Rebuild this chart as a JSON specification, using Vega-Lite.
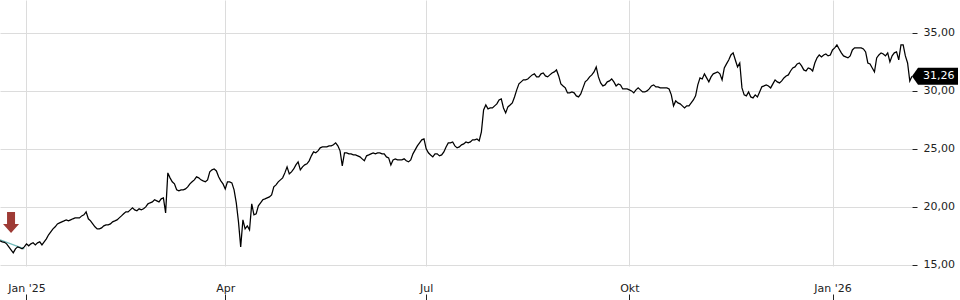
{
"$schema": "https://vega.github.io/schema/vega-lite/v6.json",
"width": 912, "height": 266,
"autosize": {"type": "none"},
"padding": {"left": 0, "top": 0, "right": 48, "bottom": 34},
"background": "white",
"config": {"view": {"stroke": null}, "font": "DejaVu Sans"},
"datasets": {
"prices": [
{"t":"2024-12-20","p":17.07},{"t":"2024-12-21","p":16.98},{"t":"2024-12-22","p":16.94},{"t":"2024-12-23","p":16.81},{"t":"2024-12-24","p":16.55},{"t":"2024-12-25","p":16.29},{"t":"2024-12-26","p":16.03},{"t":"2024-12-27","p":16.38},{"t":"2024-12-28","p":16.55},{"t":"2024-12-29","p":16.47},{"t":"2024-12-30","p":16.38},{"t":"2024-12-31","p":16.55},
{"t":"2025-01-01","p":16.81},{"t":"2025-01-02","p":16.64},{"t":"2025-01-03","p":16.81},{"t":"2025-01-04","p":16.90},{"t":"2025-01-05","p":16.72},{"t":"2025-01-06","p":16.90},{"t":"2025-01-07","p":16.98},{"t":"2025-01-08","p":16.72},{"t":"2025-01-09","p":16.98},{"t":"2025-01-10","p":17.24},{"t":"2025-01-11","p":17.59},{"t":"2025-01-12","p":17.85},{"t":"2025-01-13","p":18.10},{"t":"2025-01-14","p":18.28},{"t":"2025-01-15","p":18.53},{"t":"2025-01-16","p":18.62},{"t":"2025-01-17","p":18.71},{"t":"2025-01-18","p":18.79},{"t":"2025-01-19","p":18.88},{"t":"2025-01-20","p":18.79},{"t":"2025-01-21","p":18.88},{"t":"2025-01-22","p":18.97},{"t":"2025-01-23","p":19.05},{"t":"2025-01-24","p":19.05},{"t":"2025-01-25","p":19.05},{"t":"2025-01-26","p":19.22},{"t":"2025-01-27","p":19.31},{"t":"2025-01-28","p":19.57},{"t":"2025-01-29","p":18.97},{"t":"2025-01-30","p":18.79},{"t":"2025-01-31","p":18.53},
{"t":"2025-02-01","p":18.28},{"t":"2025-02-02","p":18.10},{"t":"2025-02-03","p":18.10},{"t":"2025-02-04","p":18.19},{"t":"2025-02-05","p":18.36},{"t":"2025-02-06","p":18.45},{"t":"2025-02-07","p":18.45},{"t":"2025-02-08","p":18.53},{"t":"2025-02-09","p":18.71},{"t":"2025-02-10","p":18.79},{"t":"2025-02-11","p":18.88},{"t":"2025-02-12","p":19.05},{"t":"2025-02-13","p":19.22},{"t":"2025-02-14","p":19.40},{"t":"2025-02-15","p":19.57},{"t":"2025-02-16","p":19.57},{"t":"2025-02-17","p":19.74},{"t":"2025-02-18","p":19.91},{"t":"2025-02-19","p":19.74},{"t":"2025-02-20","p":19.66},{"t":"2025-02-21","p":19.83},{"t":"2025-02-22","p":19.74},{"t":"2025-02-23","p":19.83},{"t":"2025-02-24","p":20.00},{"t":"2025-02-25","p":20.26},{"t":"2025-02-26","p":20.35},{"t":"2025-02-27","p":20.43},{"t":"2025-02-28","p":20.61},
{"t":"2025-03-01","p":20.52},{"t":"2025-03-02","p":20.43},{"t":"2025-03-03","p":20.69},{"t":"2025-03-04","p":20.78},{"t":"2025-03-05","p":19.48},{"t":"2025-03-06","p":22.93},{"t":"2025-03-07","p":22.50},{"t":"2025-03-08","p":22.16},{"t":"2025-03-09","p":21.98},{"t":"2025-03-10","p":21.47},{"t":"2025-03-11","p":21.38},{"t":"2025-03-12","p":21.47},{"t":"2025-03-13","p":21.47},{"t":"2025-03-14","p":21.55},{"t":"2025-03-15","p":21.72},{"t":"2025-03-16","p":21.98},{"t":"2025-03-17","p":22.16},{"t":"2025-03-18","p":22.33},{"t":"2025-03-19","p":22.59},{"t":"2025-03-20","p":22.50},{"t":"2025-03-21","p":22.33},{"t":"2025-03-22","p":22.24},{"t":"2025-03-23","p":22.16},{"t":"2025-03-24","p":22.33},{"t":"2025-03-25","p":23.02},{"t":"2025-03-26","p":23.19},{"t":"2025-03-27","p":23.27},{"t":"2025-03-28","p":23.10},{"t":"2025-03-29","p":22.59},{"t":"2025-03-30","p":22.24},{"t":"2025-03-31","p":21.98},
{"t":"2025-04-01","p":21.55},{"t":"2025-04-02","p":22.16},{"t":"2025-04-03","p":22.16},{"t":"2025-04-04","p":22.07},{"t":"2025-04-05","p":21.47},{"t":"2025-04-06","p":20.35},{"t":"2025-04-07","p":18.71},{"t":"2025-04-08","p":16.55},{"t":"2025-04-09","p":18.88},{"t":"2025-04-10","p":18.10},{"t":"2025-04-11","p":18.36},{"t":"2025-04-12","p":18.02},{"t":"2025-04-13","p":20.26},{"t":"2025-04-14","p":19.31},{"t":"2025-04-15","p":19.40},{"t":"2025-04-16","p":20.09},{"t":"2025-04-17","p":20.35},{"t":"2025-04-18","p":20.61},{"t":"2025-04-19","p":20.69},{"t":"2025-04-20","p":20.78},{"t":"2025-04-21","p":20.86},{"t":"2025-04-22","p":21.03},{"t":"2025-04-23","p":21.72},{"t":"2025-04-24","p":21.90},{"t":"2025-04-25","p":22.16},{"t":"2025-04-26","p":22.33},{"t":"2025-04-27","p":22.50},{"t":"2025-04-28","p":22.93},{"t":"2025-04-29","p":23.45},{"t":"2025-04-30","p":22.85},
{"t":"2025-05-01","p":23.02},{"t":"2025-05-02","p":23.27},{"t":"2025-05-03","p":23.62},{"t":"2025-05-04","p":23.88},{"t":"2025-05-05","p":23.19},{"t":"2025-05-06","p":23.45},{"t":"2025-05-07","p":23.62},{"t":"2025-05-08","p":23.71},{"t":"2025-05-09","p":23.97},{"t":"2025-05-10","p":24.40},{"t":"2025-05-11","p":24.74},{"t":"2025-05-12","p":24.66},{"t":"2025-05-13","p":24.83},{"t":"2025-05-14","p":25.09},{"t":"2025-05-15","p":25.17},{"t":"2025-05-16","p":25.17},{"t":"2025-05-17","p":25.17},{"t":"2025-05-18","p":25.26},{"t":"2025-05-19","p":25.26},{"t":"2025-05-20","p":25.35},{"t":"2025-05-21","p":25.52},{"t":"2025-05-22","p":25.26},{"t":"2025-05-23","p":24.83},{"t":"2025-05-24","p":23.53},{"t":"2025-05-25","p":24.66},{"t":"2025-05-26","p":24.66},{"t":"2025-05-27","p":24.57},{"t":"2025-05-28","p":24.57},{"t":"2025-05-29","p":24.48},{"t":"2025-05-30","p":24.48},{"t":"2025-05-31","p":24.40},
{"t":"2025-06-01","p":24.31},{"t":"2025-06-02","p":24.14},{"t":"2025-06-03","p":23.97},{"t":"2025-06-04","p":24.40},{"t":"2025-06-05","p":24.48},{"t":"2025-06-06","p":24.57},{"t":"2025-06-07","p":24.66},{"t":"2025-06-08","p":24.57},{"t":"2025-06-09","p":24.66},{"t":"2025-06-10","p":24.66},{"t":"2025-06-11","p":24.57},{"t":"2025-06-12","p":24.57},{"t":"2025-06-13","p":24.31},{"t":"2025-06-14","p":24.22},{"t":"2025-06-15","p":23.62},{"t":"2025-06-16","p":24.05},{"t":"2025-06-17","p":24.14},{"t":"2025-06-18","p":24.05},{"t":"2025-06-19","p":24.05},{"t":"2025-06-20","p":24.05},{"t":"2025-06-21","p":24.14},{"t":"2025-06-22","p":23.97},{"t":"2025-06-23","p":23.88},{"t":"2025-06-24","p":24.05},{"t":"2025-06-25","p":24.57},{"t":"2025-06-26","p":24.91},{"t":"2025-06-27","p":25.26},{"t":"2025-06-28","p":25.52},{"t":"2025-06-29","p":25.78},{"t":"2025-06-30","p":25.86},
{"t":"2025-07-01","p":25.00},{"t":"2025-07-02","p":24.66},{"t":"2025-07-03","p":24.48},{"t":"2025-07-04","p":24.31},{"t":"2025-07-05","p":24.57},{"t":"2025-07-06","p":24.57},{"t":"2025-07-07","p":24.40},{"t":"2025-07-08","p":24.48},{"t":"2025-07-09","p":24.74},{"t":"2025-07-10","p":25.17},{"t":"2025-07-11","p":25.52},{"t":"2025-07-12","p":25.52},{"t":"2025-07-13","p":25.60},{"t":"2025-07-14","p":25.26},{"t":"2025-07-15","p":25.09},{"t":"2025-07-16","p":25.17},{"t":"2025-07-17","p":25.35},{"t":"2025-07-18","p":25.43},{"t":"2025-07-19","p":25.60},{"t":"2025-07-20","p":25.52},{"t":"2025-07-21","p":25.60},{"t":"2025-07-22","p":25.78},{"t":"2025-07-23","p":25.78},{"t":"2025-07-24","p":25.86},{"t":"2025-07-25","p":25.69},{"t":"2025-07-26","p":26.47},{"t":"2025-07-27","p":28.36},{"t":"2025-07-28","p":28.79},{"t":"2025-07-29","p":28.45},{"t":"2025-07-30","p":28.53},{"t":"2025-07-31","p":28.53},
{"t":"2025-08-01","p":28.71},{"t":"2025-08-02","p":28.88},{"t":"2025-08-03","p":29.22},{"t":"2025-08-04","p":29.31},{"t":"2025-08-05","p":28.53},{"t":"2025-08-06","p":28.10},{"t":"2025-08-07","p":28.62},{"t":"2025-08-08","p":28.79},{"t":"2025-08-09","p":28.97},{"t":"2025-08-10","p":29.48},{"t":"2025-08-11","p":30.09},{"t":"2025-08-12","p":30.61},{"t":"2025-08-13","p":30.78},{"t":"2025-08-14","p":30.95},{"t":"2025-08-15","p":30.95},{"t":"2025-08-16","p":31.03},{"t":"2025-08-17","p":31.21},{"t":"2025-08-18","p":31.38},{"t":"2025-08-19","p":31.47},{"t":"2025-08-20","p":31.21},{"t":"2025-08-21","p":31.21},{"t":"2025-08-22","p":31.47},{"t":"2025-08-23","p":31.55},{"t":"2025-08-24","p":31.29},{"t":"2025-08-25","p":31.21},{"t":"2025-08-26","p":31.38},{"t":"2025-08-27","p":31.55},{"t":"2025-08-28","p":31.64},{"t":"2025-08-29","p":31.81},{"t":"2025-08-30","p":31.29},{"t":"2025-08-31","p":30.61},
{"t":"2025-09-01","p":30.43},{"t":"2025-09-02","p":30.26},{"t":"2025-09-03","p":29.83},{"t":"2025-09-04","p":29.83},{"t":"2025-09-05","p":29.91},{"t":"2025-09-06","p":29.83},{"t":"2025-09-07","p":29.57},{"t":"2025-09-08","p":29.48},{"t":"2025-09-09","p":29.74},{"t":"2025-09-10","p":30.26},{"t":"2025-09-11","p":30.78},{"t":"2025-09-12","p":30.95},{"t":"2025-09-13","p":31.21},{"t":"2025-09-14","p":31.38},{"t":"2025-09-15","p":31.64},{"t":"2025-09-16","p":32.07},{"t":"2025-09-17","p":31.21},{"t":"2025-09-18","p":30.69},{"t":"2025-09-19","p":30.43},{"t":"2025-09-20","p":30.52},{"t":"2025-09-21","p":30.78},{"t":"2025-09-22","p":30.86},{"t":"2025-09-23","p":31.03},{"t":"2025-09-24","p":30.78},{"t":"2025-09-25","p":30.43},{"t":"2025-09-26","p":30.60},{"t":"2025-09-27","p":30.52},{"t":"2025-09-28","p":30.17},{"t":"2025-09-29","p":30.17},{"t":"2025-09-30","p":30.17},
{"t":"2025-10-01","p":30.09},{"t":"2025-10-02","p":30.00},{"t":"2025-10-03","p":29.83},{"t":"2025-10-04","p":30.09},{"t":"2025-10-05","p":30.26},{"t":"2025-10-06","p":30.09},{"t":"2025-10-07","p":29.91},{"t":"2025-10-08","p":29.91},{"t":"2025-10-09","p":30.00},{"t":"2025-10-10","p":30.17},{"t":"2025-10-11","p":30.43},{"t":"2025-10-12","p":30.52},{"t":"2025-10-13","p":30.35},{"t":"2025-10-14","p":30.35},{"t":"2025-10-15","p":30.26},{"t":"2025-10-16","p":30.26},{"t":"2025-10-17","p":30.26},{"t":"2025-10-18","p":30.26},{"t":"2025-10-19","p":30.17},{"t":"2025-10-20","p":29.66},{"t":"2025-10-21","p":28.71},{"t":"2025-10-22","p":29.14},{"t":"2025-10-23","p":28.97},{"t":"2025-10-24","p":28.88},{"t":"2025-10-25","p":28.71},{"t":"2025-10-26","p":28.53},{"t":"2025-10-27","p":28.71},{"t":"2025-10-28","p":28.71},{"t":"2025-10-29","p":28.97},{"t":"2025-10-30","p":29.22},{"t":"2025-10-31","p":29.57},
{"t":"2025-11-01","p":30.52},{"t":"2025-11-02","p":31.12},{"t":"2025-11-03","p":31.03},{"t":"2025-11-04","p":31.47},{"t":"2025-11-05","p":31.12},{"t":"2025-11-06","p":30.78},{"t":"2025-11-07","p":31.21},{"t":"2025-11-08","p":31.47},{"t":"2025-11-09","p":31.55},{"t":"2025-11-10","p":31.64},{"t":"2025-11-11","p":31.47},{"t":"2025-11-12","p":30.95},{"t":"2025-11-13","p":31.98},{"t":"2025-11-14","p":32.33},{"t":"2025-11-15","p":32.67},{"t":"2025-11-16","p":33.10},{"t":"2025-11-17","p":33.28},{"t":"2025-11-18","p":32.67},{"t":"2025-11-19","p":32.07},{"t":"2025-11-20","p":32.41},{"t":"2025-11-21","p":30.26},{"t":"2025-11-22","p":29.66},{"t":"2025-11-23","p":29.57},{"t":"2025-11-24","p":29.91},{"t":"2025-11-25","p":29.48},{"t":"2025-11-26","p":29.40},{"t":"2025-11-27","p":29.66},{"t":"2025-11-28","p":29.48},{"t":"2025-11-29","p":29.91},{"t":"2025-11-30","p":30.35},
{"t":"2025-12-01","p":30.43},{"t":"2025-12-02","p":30.52},{"t":"2025-12-03","p":30.43},{"t":"2025-12-04","p":30.26},{"t":"2025-12-05","p":30.61},{"t":"2025-12-06","p":30.95},{"t":"2025-12-07","p":30.78},{"t":"2025-12-08","p":30.69},{"t":"2025-12-09","p":30.86},{"t":"2025-12-10","p":31.12},{"t":"2025-12-11","p":31.29},{"t":"2025-12-12","p":31.38},{"t":"2025-12-13","p":31.72},{"t":"2025-12-14","p":31.98},{"t":"2025-12-15","p":32.07},{"t":"2025-12-16","p":32.33},{"t":"2025-12-17","p":32.41},{"t":"2025-12-18","p":32.16},{"t":"2025-12-19","p":31.81},{"t":"2025-12-20","p":31.72},{"t":"2025-12-21","p":31.98},{"t":"2025-12-22","p":31.90},{"t":"2025-12-23","p":31.72},{"t":"2025-12-24","p":32.41},{"t":"2025-12-25","p":32.85},{"t":"2025-12-26","p":33.10},{"t":"2025-12-27","p":32.93},{"t":"2025-12-28","p":33.10},{"t":"2025-12-29","p":33.19},{"t":"2025-12-30","p":33.02},{"t":"2025-12-31","p":33.10},
{"t":"2026-01-01","p":33.53},{"t":"2026-01-02","p":33.71},{"t":"2026-01-03","p":33.97},{"t":"2026-01-04","p":33.62},{"t":"2026-01-05","p":33.28},{"t":"2026-01-06","p":33.02},{"t":"2026-01-07","p":32.93},{"t":"2026-01-08","p":32.85},{"t":"2026-01-09","p":33.02},{"t":"2026-01-10","p":33.53},{"t":"2026-01-11","p":33.71},{"t":"2026-01-12","p":33.71},{"t":"2026-01-13","p":33.71},{"t":"2026-01-14","p":33.71},{"t":"2026-01-15","p":33.62},{"t":"2026-01-16","p":33.36},{"t":"2026-01-17","p":32.41},{"t":"2026-01-18","p":32.33},{"t":"2026-01-19","p":31.98},{"t":"2026-01-20","p":31.64},{"t":"2026-01-21","p":32.84},{"t":"2026-01-22","p":33.10},{"t":"2026-01-23","p":33.28},{"t":"2026-01-24","p":33.19},{"t":"2026-01-25","p":33.02},{"t":"2026-01-26","p":33.28},{"t":"2026-01-27","p":32.50},{"t":"2026-01-28","p":33.02},{"t":"2026-01-29","p":33.28},{"t":"2026-01-30","p":33.36},{"t":"2026-01-31","p":32.67},
{"t":"2026-02-01","p":33.97},{"t":"2026-02-02","p":33.97},{"t":"2026-02-03","p":33.02},{"t":"2026-02-04","p":32.41},{"t":"2026-02-05","p":30.85},{"t":"2026-02-06","p":31.26}
],
"trend": [{"t":"2024-12-20","p":17.16},{"t":"2024-12-31","p":16.38}],
"signal": [{"t":"2024-12-25","p":16.29}],
"last": [{"t":"2026-02-06","p":31.26,"label":"31,26"}]
},
"layer": [
{
"data": {"name": "trend"},
"mark": {"type": "line", "color": "#6cb7b7", "strokeWidth": 1.2},
"encoding": {
"x": {"field": "t", "type": "temporal",
"scale": {"type": "utc", "nice": false, "domain": [{"year": 2024, "month": 12, "date": 20, "utc": true}, {"year": 2026, "month": 2, "date": 6, "utc": true}]},
"axis": {"values": [{"year": 2025, "month": 1, "date": 1, "utc": true}, {"year": 2025, "month": 4, "date": 1, "utc": true}, {"year": 2025, "month": 7, "date": 1, "utc": true}, {"year": 2025, "month": 10, "date": 1, "utc": true}, {"year": 2026, "month": 1, "date": 1, "utc": true}],
"labelExpr": "utcmonth(datum.value) == 0 ? \"Jan '\" + utcFormat(datum.value, '%y') : (utcmonth(datum.value) == 3 ? 'Apr' : (utcmonth(datum.value) == 6 ? 'Jul' : 'Okt'))",
"grid": true, "gridColor": "#dcdcdc", "gridWidth": 1, "domain": false, "ticks": true, "tickSize": 6, "tickColor": "#222222", "offset": 28, "labelPadding": -9, "labelBaseline": "alphabetic", "labelFontSize": 11, "labelColor": "#222222", "labelFont": "DejaVu Sans", "labelFlush": false, "title": null}},
"y": {"field": "p", "type": "quantitative",
"scale": {"domain": [14.9, 37.84], "zero": false, "nice": false},
"axis": {"orient": "right", "values": [15, 20, 25, 30, 35], "labelExpr": "replace(format(datum.value, '.2f'), '.', ',')", "grid": true, "gridColor": "#dcdcdc", "gridWidth": 1, "domain": false, "tickSize": 5, "tickColor": "#222222", "labelPadding": 6, "labelFontSize": 11, "labelColor": "#222222", "labelFont": "DejaVu Sans", "title": null}}
}
},
{
"data": {"name": "prices"},
"mark": {"type": "line", "color": "#000000", "strokeWidth": 1.25},
"encoding": {"x": {"field": "t", "type": "temporal"}, "y": {"field": "p", "type": "quantitative"}}
},
{
"data": {"name": "signal"},
"mark": {"type": "point", "shape": "M0,-1.7 L-0.8,-2.6 L-0.4,-2.6 L-0.4,-3.8 L0.4,-3.8 L0.4,-2.6 L0.8,-2.6 Z", "size": 400, "filled": true, "color": "#9e3b35", "opacity": 1, "strokeWidth": 0},
"encoding": {"x": {"field": "t", "type": "temporal"}, "y": {"field": "p", "type": "quantitative"}}
},
{
"data": {"name": "last"},
"mark": {"type": "point", "shape": "M0,0 L0.6,-0.85 L4.6,-0.85 L4.6,0.85 L0.6,0.85 Z", "size": 400, "filled": true, "color": "#000000", "opacity": 1, "strokeWidth": 0},
"encoding": {"x": {"field": "t", "type": "temporal"}, "y": {"field": "p", "type": "quantitative"}}
},
{
"data": {"name": "last"},
"mark": {"type": "text", "align": "left", "baseline": "middle", "dx": 11, "color": "#ffffff", "fontSize": 11, "font": "DejaVu Sans"},
"encoding": {"x": {"field": "t", "type": "temporal"}, "y": {"field": "p", "type": "quantitative"}, "text": {"field": "label"}}
}
]
}
